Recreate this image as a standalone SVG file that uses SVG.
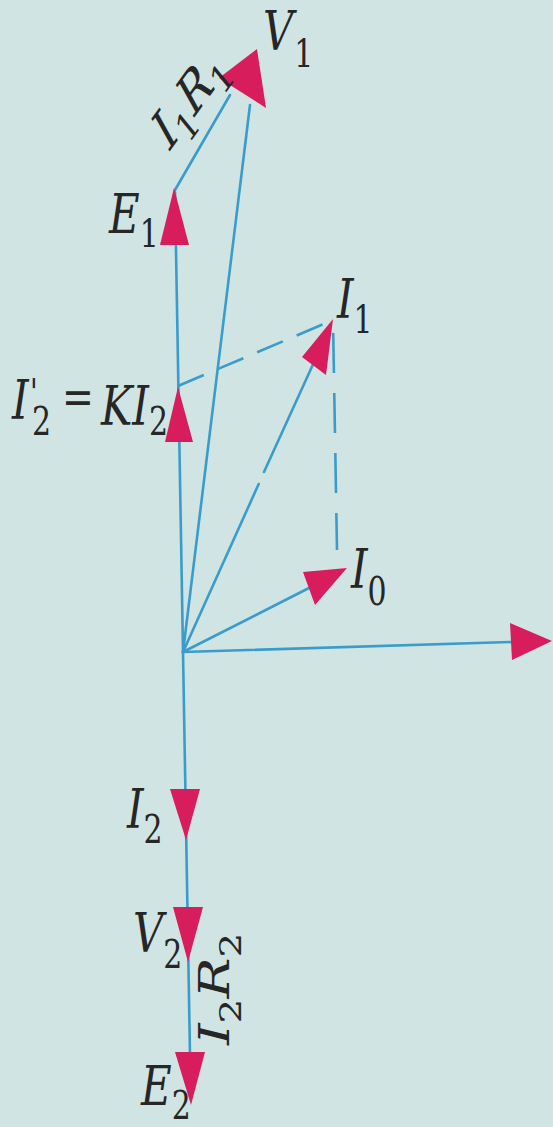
<svg xmlns="http://www.w3.org/2000/svg" width="553" height="1127" viewBox="0 0 553 1127">
<style>
.ln{stroke:#3a9ccc;stroke-width:2.6;fill:none;stroke-linecap:round}
.ds{stroke:#3a9ccc;stroke-width:2.6;fill:none}
.ah{fill:#d71d5c}
.sb{font-style:normal;font-size:30px}
</style>
<rect width="553" height="1127" fill="#d0e4e3"/>
<g id="connectors">
<line class="ln" x1="183" y1="652" x2="175" y2="192"/>
<line class="ln" x1="183" y1="652" x2="190" y2="1055"/>
<line class="ln" x1="183" y1="652" x2="512" y2="642"/>
<line class="ln" x1="183" y1="652" x2="309" y2="588"/>
<line class="ln" x1="183" y1="652" x2="258.7" y2="484"/>
<line class="ln" x1="264" y1="472" x2="315" y2="360"/>
<line class="ln" x1="183" y1="652" x2="250" y2="105"/>
<line class="ln" x1="175" y1="190" x2="230" y2="95"/>
<line class="ds" x1="178" y1="386" x2="333" y2="320" stroke-dasharray="28 15"/>
<line class="ds" x1="333" y1="320" x2="337" y2="550" stroke-dasharray="40 20" stroke-dashoffset="47"/>
</g>
<g font-family="DejaVu Serif, Liberation Serif, serif" font-size="42" font-style="italic" fill="#262626">
<g id="E1">
<polygon class="ah" points="174,188 160,245 189,245"/>
<text transform="translate(109,233) scale(1,1.3)">E<tspan class="sb" dy="11">1</tspan></text>
</g>
<g id="I2prime">
<polygon class="ah" points="178,387 165,442 193,442"/>
<text transform="translate(12,419) scale(1,1.3)">I</text>
<text transform="translate(30,405) scale(1,1.3)" font-size="28">'</text>
<text class="sb" transform="translate(32,435) scale(1,1.3)">2</text>
<text transform="translate(62,414) scale(1,1.3)" font-style="normal" font-size="38">=</text>
<text transform="translate(101,425) scale(1,1.3)">KI<tspan class="sb" dy="8">2</tspan></text>
</g>
<g id="V1">
<polygon class="ah" points="219,78 257,49 266,108"/>
<text transform="translate(263,50) scale(1,1.3)">V<tspan class="sb" dx="1" dy="13">1</tspan></text>
</g>
<g id="I1R1">
<text transform="translate(170,151) scale(1,1.3) rotate(-46.8)">I<tspan class="sb" dy="10">1</tspan><tspan dy="-10">R</tspan><tspan class="sb" dy="10">1</tspan></text>
</g>
<g id="I1">
<polygon class="ah" points="333,319 302,357 326,375"/>
<text transform="translate(337,318) scale(1,1.3)">I<tspan class="sb" dy="11.5">1</tspan></text>
</g>
<g id="I0">
<polygon class="ah" points="347,568 303,572 315,605"/>
<text transform="translate(351,588) scale(1,1.3)">I<tspan class="sb" dy="13">0</tspan></text>
</g>
<g id="axis">
<polygon class="ah" points="552,641 510,623 512,660"/>
</g>
<g id="I2">
<polygon class="ah" points="170,789 200,789 186,840"/>
<text transform="translate(127,828) scale(1,1.3)">I<tspan class="sb" dy="11.5">2</tspan></text>
</g>
<g id="V2">
<polygon class="ah" points="173,907 203,907 188,962"/>
<text transform="translate(133,952) scale(1,1.3)">V<tspan class="sb" dy="12">2</tspan></text>
</g>
<g id="I2R2">
<text transform="translate(229,1045) scale(1,1.3) rotate(-90)">I<tspan class="sb" dy="12">2</tspan><tspan dy="-12">R</tspan><tspan class="sb" dy="12">2</tspan></text>
</g>
<g id="E2">
<polygon class="ah" points="175,1052 205,1052 191,1105"/>
<text transform="translate(141,1105) scale(1,1.3)">E<tspan class="sb" dy="11">2</tspan></text>
</g>
</g>
</svg>
